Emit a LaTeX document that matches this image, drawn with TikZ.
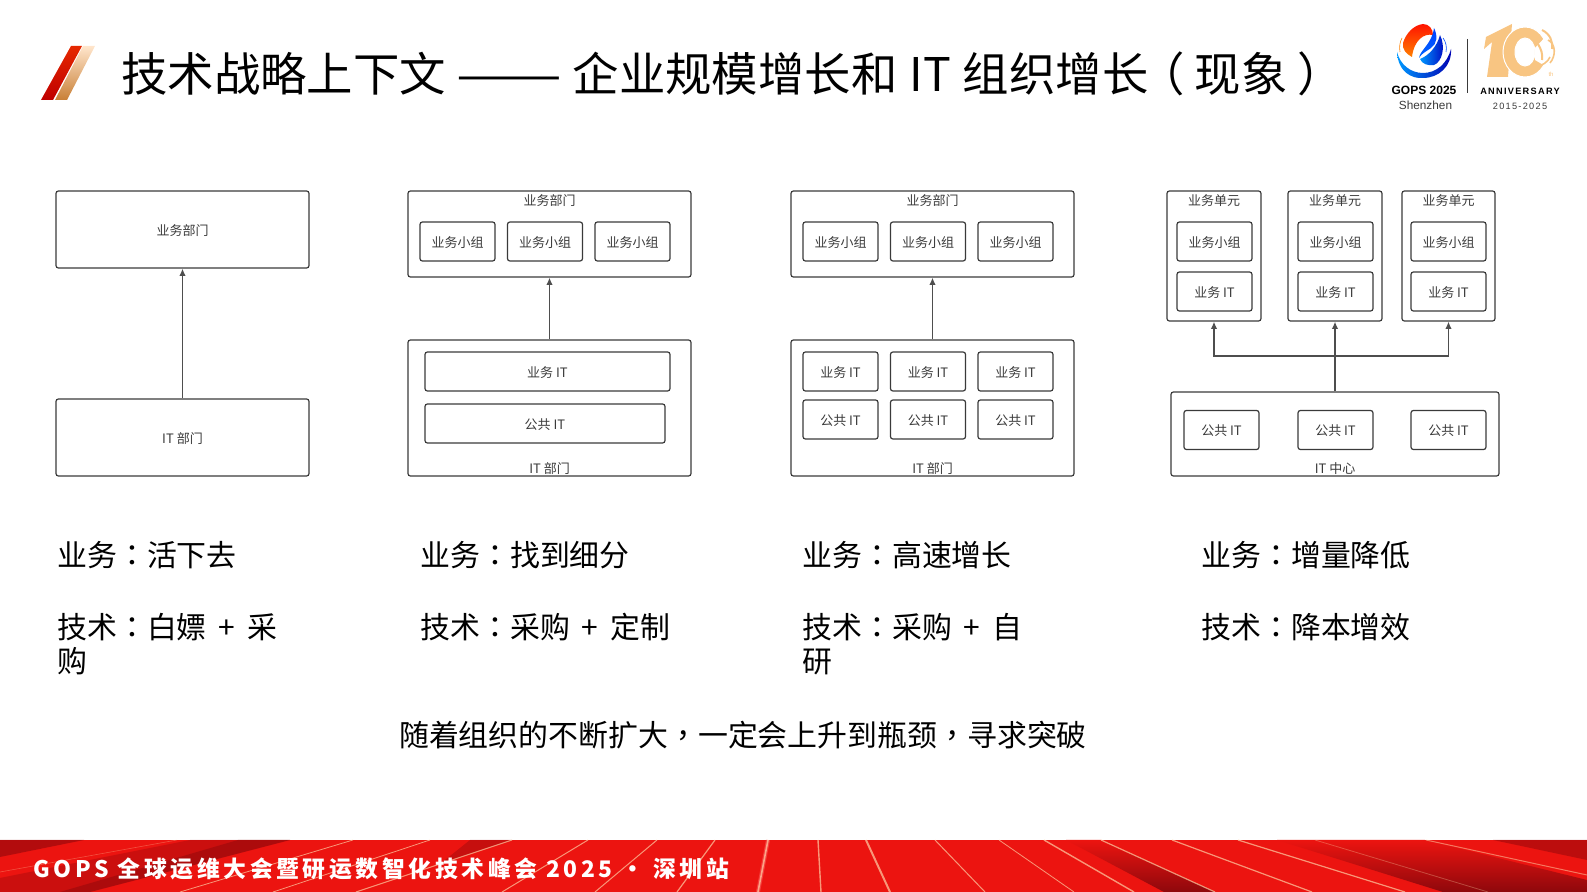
\documentclass[tikz,border=0pt]{standalone}
\usepackage{fontspec}
\setmainfont{Noto Sans CJK SC}
\newfontfamily\punctfont{Noto Sans CJK TC}
\newfontfamily\parenfont[RawFeature=+palt]{Noto Sans CJK SC}
\newfontfamily\footfont[LetterSpace=16]{Noto Sans CJK SC}
\newfontfamily\logofont{Liberation Sans}
\newfontfamily\annifont[LetterSpace=14]{Liberation Sans}
\usetikzlibrary{arrows.meta}
\definecolor{linegray}{HTML}{3A3A3A}
\definecolor{barred}{HTML}{EC1410}
\definecolor{bardark}{HTML}{8E080C}
\definecolor{streak}{HTML}{FFDDB0}
\definecolor{logotan}{HTML}{F8C582}
\newcommand{\zhcolon}{{\punctfont ：}}
\newcommand{\zhcomma}{{\punctfont ，}}
\newcommand{\zhplus}{\hspace{6pt}+\hspace{6pt}}
\tikzset{
    boxsize/.style 2 args={minimum width=#1*0.5pt, minimum height=#2*0.5pt},
    deptbox/.style={draw=linegray, line width=0.6pt, rounded corners=1.2pt, inner sep=0pt, text=linegray, text height=6.4pt, text depth=0.5pt, font=\fontsize{6.5}{8}\selectfont},
    teambox/.style={deptbox, boxsize={75}{39}},
    deptlabel/.style={inner sep=0pt, text=linegray, text height=6.4pt, text depth=0.5pt, font=\fontsize{6.5}{8}\selectfont},
    bodytext/.style={anchor=north west, inner sep=0pt, align=left, text=black, font=\fontsize{14.95}{17}\selectfont},
    conn/.style={draw=linegray!90!white, line width=0.8pt, -{Latex[length=3.6pt, width=3.2pt]}},
    band/.style={top color=barred, bottom color=bardark},
    streakline/.style={draw=streak, opacity=0.65},
}
\begin{document}
\begin{tikzpicture}[x=0.5pt, y=-0.5pt]
    \useasboundingbox (0,0) rectangle (1587,892);

    \fill[barred] (0,840) rectangle (1587,892);
    \begin{scope}
        \clip (0,840) rectangle (1587,892);
        \fill[bardark, opacity=0.35] (0,878) -- (190,840) -- (290,840) -- (90,892) -- (0,892) -- cycle;
        \fill[bardark, opacity=0.5] (60,892) -- (238,840) -- (290,840) -- (90,892) -- cycle;
        \fill[bardark, opacity=0.6] (0,840) -- (84,840) -- (0,857) -- cycle;
        \fill[bardark, opacity=0.4] (470,840) -- (512,840) -- (440,864) -- cycle;
        \shade[band] (1066,840) -- (1101,840) -- (1215,892) -- (1164,892) -- cycle;
        \shade[band] (1277,840) -- (1425,840) -- (1587,880) -- (1587,892) -- (1443,892) -- cycle;
        \fill[bardark, opacity=0.5] (1493,840) -- (1587,840) -- (1587,860) -- cycle;
        \draw[streakline, line width=0.3pt, opacity=0.3] (177,840) -- (0,872);
        \draw[streakline, line width=0.4pt] (353,840) -- (180,892);
        \draw[streakline, line width=0.4pt] (430,840) -- (273,892);
        \draw[streakline, line width=0.5pt] (512,840) -- (356,892);
        \draw[streakline, line width=0.5pt] (588,840) -- (502,892);
        \draw[streakline, line width=0.5pt] (657,840) -- (595,892);
        \draw[streakline, line width=0.6pt] (715,840) -- (677,892);
        \draw[red!60!white, opacity=0.5, line width=2pt] (768,840) -- (758,892);
        \draw[streakline, line width=0.8pt] (768,840) -- (758,892);
        \draw[streakline, line width=0.7pt] (818,840) -- (821,892);
        \draw[streakline, line width=1pt] (866,840) -- (890,892);
        \draw[streakline, line width=0.5pt] (935,840) -- (985,892);
        \draw[streakline, line width=0.4pt] (999,840) -- (1074,892);
        \draw[streakline, line width=0.7pt] (1044,840) -- (1134,892);
        \draw[streakline, line width=0.6pt] (1101,840) -- (1215,892);
        \draw[streakline, line width=0.6pt] (1172,840) -- (1312,892);
        \draw[streakline, line width=0.6pt] (1238,840) -- (1405,892);
        \draw[streakline, line width=0.4pt, opacity=0.3] (1315,840) -- (1488,892);
        \draw[streakline, line width=0.5pt, opacity=0.5] (1426,840) -- (1587,875);
    \end{scope}
    \node[anchor=west, inner sep=0pt, text=white, font=\footfont\bfseries\fontsize{11.4}{14}\selectfont] (footer) at (33,869) {GOPS 全球运维大会暨研运数智化技术峰会 2025 · 深圳站};

    \shade[top color=red!65!orange!90!black, bottom color=red!75!black] (71,46) -- (82,46) -- (53,100) -- (41,100) -- cycle;
    \shade[top color=orange!20!white, bottom color=brown!85!orange] (83,46) -- (95,46) -- (67,100) -- (55,100) -- cycle;
    \node[anchor=west, inner sep=0pt, font=\fontsize{23.2}{27}\selectfont] (title) at (121,74) {技术战略上下文 \scalebox{1.36}[1]{——} 企业规模增长和\hspace{0.8pt} IT \hspace{0.8pt}组织增长\makebox[1em][c]{\parenfont（}现象\makebox[1em][c]{\parenfont）}};

    \shade[left color=cyan!60!blue, right color=blue!70!black] (1397,52) .. controls (1398,72) and (1412,79) .. (1423,78) .. controls (1439,78) and (1452,66) .. (1451,49) .. controls (1447,64) and (1436,73) .. (1423,73) .. controls (1410,73) and (1400,64) .. (1397,52) -- cycle;
    \draw[orange, line width=0.3pt] (1402,38) .. controls (1400,42) and (1399,46) .. (1400,52);
    \draw[blue!70!cyan, line width=0.3pt] (1443,38) .. controls (1446,42) and (1447,47) .. (1446,52);
    \shade[top color=red!85!orange, bottom color=orange] (1403,43) .. controls (1406,33) and (1414,25) .. (1423,24) .. controls (1429,24) and (1433,29) .. (1433,35) .. controls (1424,33) and (1414,40) .. (1412,57) .. controls (1406,54) and (1402,49) .. (1403,43) -- cycle;
    \shade[top color=blue!75!cyan, bottom color=blue!60!cyan] (1434,28) .. controls (1438,36) and (1437,44) .. (1431,48) .. controls (1427,51) and (1422,53) .. (1419,58) .. controls (1420,50) and (1432,44) .. (1434,28) -- cycle;
    \shade[left color=cyan!60!blue, right color=blue!75!black] (1420,59) .. controls (1428,56) and (1437,47) .. (1440,35) .. controls (1446,47) and (1442,62) .. (1434,65) .. controls (1428,66) and (1422,64) .. (1420,59) -- cycle;
    \node[inner sep=0pt, font=\logofont\bfseries\fontsize{6}{7}\selectfont] (gops) at (1424,90) {GOPS 2025};
    \node[inner sep=0pt, text=linegray, font=\logofont\fontsize{5.9}{7}\selectfont] (city) at (1425.5,105) {Shenzhen};
    \draw[linegray, line width=0.4pt] (1467,39) -- (1467,93);
    \fill[logotan] (1512,24) -- (1508,77) -- (1487,77) -- (1492,42) -- (1484,49) -- (1486,37) -- cycle;
    \filldraw[logotan, draw=white, line width=0.5pt, even odd rule] (1525,52) ellipse [x radius=22*0.5pt, y radius=25*0.5pt] (1525,52) ellipse [x radius=10*0.5pt, y radius=14*0.5pt];
    \fill[white] (1535,48) -- (1549,33) -- (1552,70) -- (1535,60) -- cycle;
    \draw[logotan, line width=1pt] (1542,30) .. controls (1550,34) and (1553,41) .. (1552,49);
    \draw[logotan, line width=1pt] (1538,44) .. controls (1541,49) and (1543,54) .. (1542,60);
    \draw[logotan, line width=0.8pt] (1548,40) .. controls (1556,44) and (1556,56) .. (1550,63);
    \draw[logotan, line width=0.8pt] (1535,67) .. controls (1542,66) and (1548,62) .. (1550,57);
    \node[inner sep=0pt, text=logotan, font=\logofont\fontsize{3}{4}\selectfont] (th) at (1551,74) {th};
    \node[inner sep=0pt, font=\annifont\bfseries\fontsize{4.6}{6}\selectfont] (anni) at (1520,91) {ANNIVERSARY};
    \node[inner sep=0pt, text=linegray, font=\annifont\fontsize{4.6}{6}\selectfont] (years) at (1520,106) {2015-2025};

    \node[deptbox, boxsize={253}{77}] (biz1) at (182.5,229.5) {业务部门};
    \node[deptbox, boxsize={253}{77}] (it1) at (182.5,437.5) {IT 部门};
    \draw[conn] (it1.north) -- (biz1.south);

    \node[deptbox, boxsize={283}{86}] (biz2) at (549.5,234) {};
    \node[deptlabel] (biz2label) at (549.5,200) {业务部门};
    \node[teambox] (team2a) at (457.5,241.5) {业务小组};
    \node[teambox] (team2b) at (545,241.5) {业务小组};
    \node[teambox] (team2c) at (632.5,241.5) {业务小组};
    \node[deptbox, boxsize={283}{136}] (it2) at (549.5,408) {};
    \node[deptbox, boxsize={245}{39}] (bizit2) at (547.5,371.5) {业务 IT};
    \node[deptbox, boxsize={240}{39}] (pubit2) at (545,423.5) {公共 IT};
    \node[deptlabel] (it2label) at (549.5,468) {IT 部门};
    \draw[conn] (it2.north) -- (biz2.south);

    \node[deptbox, boxsize={283}{136}] (it3) at (932.5,408) {};
    \node[deptbox, boxsize={283}{86}] (biz3) at (932.5,234) {};
    \node[deptlabel] (biz3label) at (932.5,200) {业务部门};
    \node[teambox] (team3a) at (840.5,241.5) {业务小组};
    \node[teambox] (team3b) at (928,241.5) {业务小组};
    \node[teambox] (team3c) at (1015.5,241.5) {业务小组};
    \node[teambox] (bizit3a) at (840.5,371.5) {业务 IT};
    \node[teambox] (bizit3b) at (928,371.5) {业务 IT};
    \node[teambox] (bizit3c) at (1015.5,371.5) {业务 IT};
    \node[teambox] (pubit3a) at (840.5,419.5) {公共 IT};
    \node[teambox] (pubit3b) at (928,419.5) {公共 IT};
    \node[teambox] (pubit3c) at (1015.5,419.5) {公共 IT};
    \node[deptlabel] (it3label) at (932.5,468) {IT 部门};
    \draw[conn] (it3.north) -- (biz3.south);

    \node[deptbox, boxsize={94}{130}] (unit1) at (1214,256) {};
    \node[deptbox, boxsize={94}{130}] (unit2) at (1335,256) {};
    \node[deptbox, boxsize={93}{130}] (unit3) at (1448.5,256) {};
    \node[deptlabel] (unit1label) at (1214,200) {业务单元};
    \node[deptlabel] (unit2label) at (1335,200) {业务单元};
    \node[deptlabel] (unit3label) at (1448.5,200) {业务单元};
    \node[teambox] (team4a) at (1214.5,241.5) {业务小组};
    \node[teambox] (team4b) at (1335.5,241.5) {业务小组};
    \node[teambox] (team4c) at (1448.5,241.5) {业务小组};
    \node[teambox] (bizit4a) at (1214.5,291.5) {业务 IT};
    \node[teambox] (bizit4b) at (1335.5,291.5) {业务 IT};
    \node[teambox] (bizit4c) at (1448.5,291.5) {业务 IT};
    \node[deptbox, boxsize={328}{84}] (center) at (1335,434) {};
    \node[teambox] (pubit4a) at (1221.5,430) {公共 IT};
    \node[teambox] (pubit4b) at (1335.5,430) {公共 IT};
    \node[teambox] (pubit4c) at (1448.5,430) {公共 IT};
    \node[deptlabel] (centerlabel) at (1335,468) {IT 中心};
    \coordinate (branch) at (1335,356);
    \draw[conn] (center.north) -- (unit2.south);
    \draw[conn] (branch) -| (unit1.south);
    \draw[conn] (branch) -| (unit3.south);

    \node[bodytext] (text1a) at (57,541) {业务\zhcolon 活下去};
    \node[bodytext] (text1b) at (57,613) {技术\zhcolon 白嫖\zhplus 采\\购};
    \node[bodytext] (text2a) at (420,541) {业务\zhcolon 找到细分};
    \node[bodytext] (text2b) at (420,613) {技术\zhcolon 采购\zhplus 定制};
    \node[bodytext] (text3a) at (802,541) {业务\zhcolon 高速增长};
    \node[bodytext] (text3b) at (802,613) {技术\zhcolon 采购\zhplus 自\\研};
    \node[bodytext] (text4a) at (1201,541) {业务\zhcolon 增量降低};
    \node[bodytext] (text4b) at (1201,613) {技术\zhcolon 降本增效};
    \node[bodytext, anchor=north] (summary) at (743,721) {随着组织的不断扩大\zhcomma 一定会上升到瓶颈\zhcomma 寻求突破};
\end{tikzpicture}
\end{document}
